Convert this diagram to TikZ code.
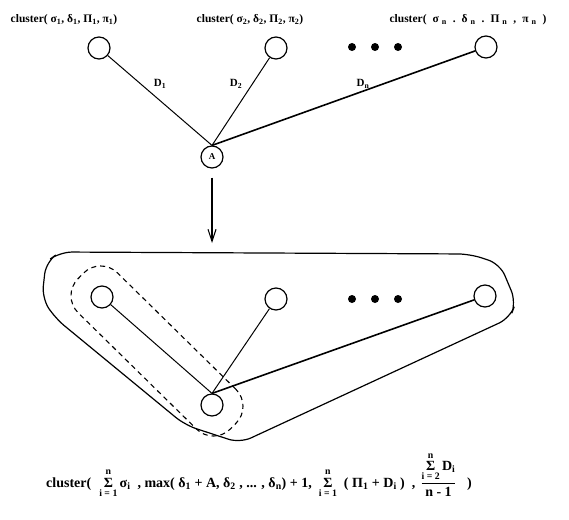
\documentclass[tikz,border=0pt]{standalone}
\usepackage{amsmath}
\usepackage{fontspec}
\setmainfont{Liberation Serif}
\usetikzlibrary{arrows.meta, positioning, calc}
\newcommand{\sbs}[1]{\textsubscript{#1}}
\newcommand{\sumlim}[2]{\ensuremath{\mathop{\text{Σ}}\limits_{\text{#1}}^{\text{#2}}}}

\begin{document}
\begin{tikzpicture}[
  x=1pt, y=-1pt,
  vertex/.style={draw, circle, line width=1.2pt, minimum size=22pt, inner sep=0pt},
  dot/.style={fill, circle, minimum size=8pt, inner sep=0pt},
  edge/.style={line width=1pt},
  heavy/.style={line width=1.6pt},
  arrow/.style={-{Straight Barb[length=12pt,width=8pt]}, line width=1.1pt},
  dlabel/.style={font=\fontsize{11}{13}\selectfont\bfseries},
  clabel/.style={font=\fontsize{11.5}{14}\selectfont\bfseries, anchor=base},
  rlabel/.style={font=\fontsize{14}{17}\selectfont\bfseries, anchor=base},
  mergeloop/.style={draw, dash pattern=on 5pt off 4pt, line width=1.1pt,
    rounded corners=24pt, inner sep=0pt}
]
\useasboundingbox (0,0) rectangle (569,519);

% Clusters before merging
\node[clabel] (lab1) at (64,23) {cluster( σ\sbs{1}, δ\sbs{1}, Π\sbs{1}, π\sbs{1})};
\node[clabel] (lab2) at (250,23) {cluster( σ\sbs{2}, δ\sbs{2}, Π\sbs{2}, π\sbs{2})};
\node[clabel] (lab3) at (468,23) {cluster(\hspace{6pt}σ\hspace{3pt}\sbs{n}\hspace{6pt}.\hspace{6pt}δ\hspace{3pt}\sbs{n}\hspace{6pt}.\hspace{6pt}Π\hspace{3pt}\sbs{n}\hspace{6pt},\hspace{6pt}π\hspace{3pt}\sbs{n}\hspace{6pt})};

\node[vertex] (c1) at (99,48) {};
\node[vertex] (c2) at (276,48) {};
\node[vertex] (cn) at (486,47) {};
\node[dot] (d1) at (352,47) {};
\node[dot] (d2) at (375,47) {};
\node[dot] (d3) at (398,47) {};

\node[vertex, font=\fontsize{9}{10}\selectfont\bfseries] (A) at (212,157) {A};

\draw[edge] (c1) -- (A.north);
\draw[edge] (c2) -- (A.north);
\draw[heavy] (cn) -- (A.north);

% Distances
\node[dlabel] (D1) at (160,84) {D\sbs{1}};
\node[dlabel] (D2) at (236,84) {D\sbs{2}};
\node[dlabel] (Dn) at (363,84) {D\sbs{n}};

% Merge step
\coordinate (tip) at (212,243);
\draw[arrow, shorten <=9pt] (A.south) -- (tip);

% Merged cluster
\draw[line width=1.2pt, rounded corners=12pt]
  (60,252) -- (470,254) -- (500,264) -- (516,302) -- (510,318)
  -- (240,443) -- (185,425) -- (55,318) -- (42,298) -- (46,262) -- cycle;

\node[vertex] (b1) at (102,297) {};
\node[vertex] (b2) at (276,299) {};
\node[vertex] (bn) at (485,296) {};
\node[dot] (e1) at (352,299) {};
\node[dot] (e2) at (375,299) {};
\node[dot] (e3) at (398,299) {};
\node[vertex] (bA) at (212,405) {};

\draw[edge] (b1) -- (bA.north);
\draw[edge] (b2) -- (bA.north);
\draw[heavy] (bn) -- (bA.north);

\node[mergeloop, rotate=-44.5, minimum width=214pt, minimum height=56pt]
  (pair) at ($(b1)!0.5!(bA)$) {};

% Merged parameters
\node[rlabel] (res) at (259,487) {cluster(\hspace{8pt}\sumlim{i = 1}{n}\,σ\sbs{i} \ , max( δ\sbs{1} + A,\ δ\sbs{2} , ... , δ\sbs{n}) + 1,\hspace{7pt}\sumlim{i = 1}{n}\ \ ( Π\sbs{1} + D\sbs{i} )\ \ ,\hspace{5pt}$\dfrac{\mathop{\text{Σ}}\limits_{\text{i = 2}}^{\text{n}}\text{D}_{\text{i}}}{\text{n - 1}}$ \ \ )};

\end{tikzpicture}
\end{document}
